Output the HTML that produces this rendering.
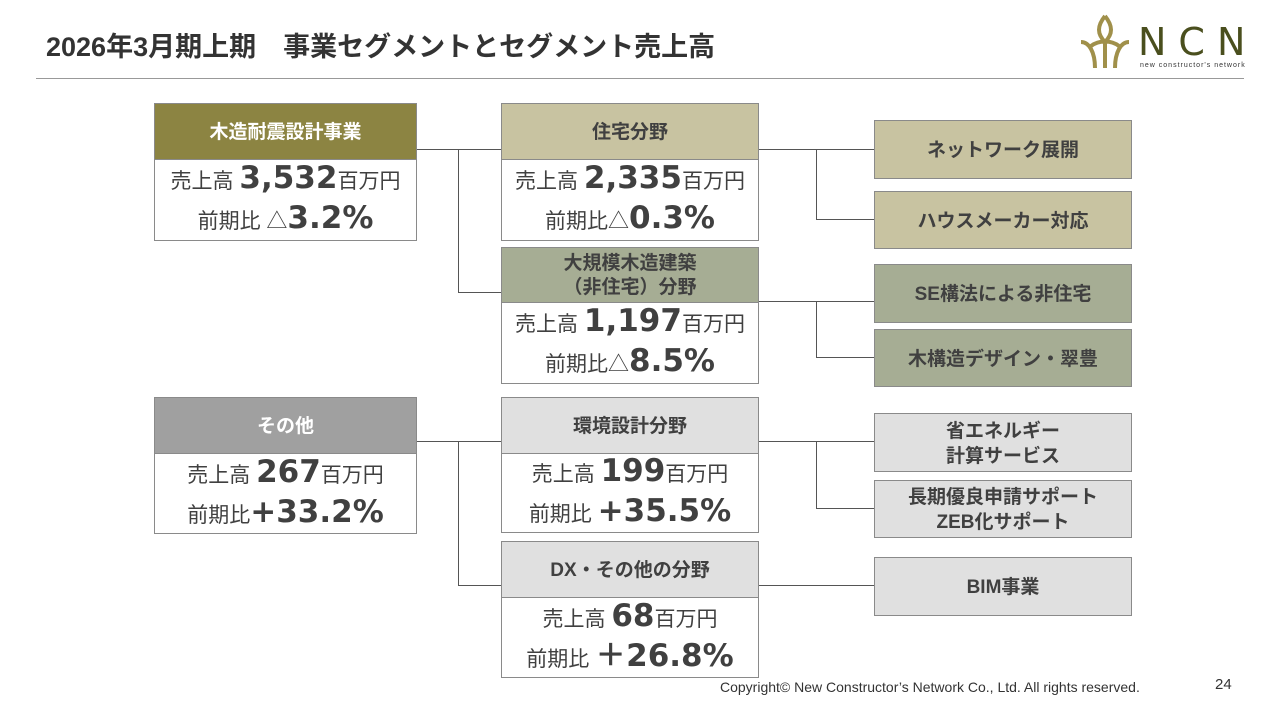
<!DOCTYPE html>
<html><head><meta charset="utf-8"><style>
*{margin:0;padding:0;box-sizing:border-box}
body{width:1280px;height:720px;background:#fff;position:relative;overflow:hidden;font-family:"Liberation Sans","Noto Sans CJK JP",sans-serif;color:#404040}
.a{position:absolute}
.h{position:absolute;display:flex;align-items:center;justify-content:center;text-align:center;font-weight:bold;font-size:19px;border:1px solid #8a8a8a;line-height:1.25;padding-top:2px}
.b{position:absolute;border:1px solid #8a8a8a;border-top:none;background:#fff;display:flex;flex-direction:column;justify-content:center;align-items:center;font-size:21px;line-height:37px}
.b b{font-size:31px;font-family:"DejaVu Sans","Noto Sans CJK JP",sans-serif}
.r{position:absolute;left:874px;width:258px;display:flex;align-items:center;justify-content:center;text-align:center;font-weight:bold;font-size:19px;border:1px solid #8a8a8a;line-height:1.3;color:#404040;padding-top:4px}
.ln{position:absolute;background:#555}
</style></head><body>
<div class="a" style="left:46px;top:25px;font-size:27px;font-weight:bold;color:#333;white-space:nowrap">2026年3月期上期　事業セグメントとセグメント売上高</div>
<div class="a" style="left:36px;top:78px;width:1208px;height:1px;background:#999"></div>
<div class="a" style="left:1074px;top:12px;width:175px;height:60px">
<svg width="62" height="60" viewBox="0 0 60 60" style="position:absolute;left:0;top:0"><path d="M30 4 C22 14 22 22 30 30 C38 22 38 14 30 4 M6 30 C14 30 20 40 20 56 M54 30 C46 30 40 40 40 56 M16 34 C24 28 36 28 44 34 M30 30 L30 56" stroke="#a0904a" stroke-width="4" fill="none"/></svg>
<div class="a" style="left:64px;top:8px;font-size:38px;color:#4a4f1e;letter-spacing:12px;font-family:'DejaVu Sans',sans-serif">NCN</div>
<div class="a" style="left:66px;top:50px;font-size:7px;color:#333;letter-spacing:1px;white-space:nowrap">new constructor's network</div>
</div>

<!-- connectors -->
<div class="ln" style="left:416px;top:149px;width:85px;height:1px"></div>
<div class="ln" style="left:458px;top:149px;width:1px;height:143px"></div>
<div class="ln" style="left:458px;top:292px;width:43px;height:1px"></div>
<div class="ln" style="left:758px;top:149px;width:116px;height:1px"></div>
<div class="ln" style="left:816px;top:149px;width:1px;height:70px"></div>
<div class="ln" style="left:816px;top:219px;width:58px;height:1px"></div>
<div class="ln" style="left:758px;top:301px;width:116px;height:1px"></div>
<div class="ln" style="left:816px;top:301px;width:1px;height:57px"></div>
<div class="ln" style="left:816px;top:357px;width:58px;height:1px"></div>
<div class="ln" style="left:416px;top:441px;width:85px;height:1px"></div>
<div class="ln" style="left:458px;top:441px;width:1px;height:144px"></div>
<div class="ln" style="left:458px;top:585px;width:43px;height:1px"></div>
<div class="ln" style="left:758px;top:441px;width:116px;height:1px"></div>
<div class="ln" style="left:816px;top:441px;width:1px;height:67px"></div>
<div class="ln" style="left:816px;top:508px;width:58px;height:1px"></div>
<div class="ln" style="left:758px;top:585px;width:116px;height:1px"></div>

<!-- left -->
<div class="h" style="left:154px;top:103px;width:263px;height:57px;background:#8c8442;color:#fff">木造耐震設計事業</div>
<div class="b" style="left:154px;top:160px;width:263px;height:81px"><div>売上高 <b>3,532</b>百万円</div><div>前期比 △<b>3.2%</b></div></div>
<div class="h" style="left:154px;top:397px;width:263px;height:57px;background:#a0a0a0;color:#fff">その他</div>
<div class="b" style="left:154px;top:454px;width:263px;height:80px"><div>売上高 <b>267</b>百万円</div><div>前期比<b>+33.2%</b></div></div>

<!-- middle -->
<div class="h" style="left:501px;top:103px;width:258px;height:57px;background:#c8c3a1">住宅分野</div>
<div class="b" style="left:501px;top:160px;width:258px;height:81px"><div>売上高 <b>2,335</b>百万円</div><div>前期比△<b>0.3%</b></div></div>
<div class="h" style="left:501px;top:247px;width:258px;height:56px;background:#a6ad94">大規模木造建築<br>（非住宅）分野</div>
<div class="b" style="left:501px;top:303px;width:258px;height:81px"><div>売上高 <b>1,197</b>百万円</div><div>前期比△<b>8.5%</b></div></div>
<div class="h" style="left:501px;top:397px;width:258px;height:57px;background:#e0e0e0">環境設計分野</div>
<div class="b" style="left:501px;top:454px;width:258px;height:79px"><div>売上高 <b>199</b>百万円</div><div>前期比 <b>+35.5%</b></div></div>
<div class="h" style="left:501px;top:541px;width:258px;height:57px;background:#e0e0e0">DX・その他の分野</div>
<div class="b" style="left:501px;top:598px;width:258px;height:80px"><div>売上高 <b>68</b>百万円</div><div>前期比 <b>＋26.8%</b></div></div>

<!-- right -->
<div class="r" style="top:120px;height:59px;background:#c8c3a1">ネットワーク展開</div>
<div class="r" style="top:191px;height:58px;background:#c8c3a1">ハウスメーカー対応</div>
<div class="r" style="top:264px;height:59px;background:#a6ad94">SE構法による非住宅</div>
<div class="r" style="top:329px;height:58px;background:#a6ad94">木構造デザイン・翠豊</div>
<div class="r" style="top:413px;height:59px;background:#e0e0e0">省エネルギー<br>計算サービス</div>
<div class="r" style="top:480px;height:58px;background:#e0e0e0">長期優良申請サポート<br>ZEB化サポート</div>
<div class="r" style="top:557px;height:59px;background:#e0e0e0">BIM事業</div>

<div class="a" style="left:720px;top:679px;font-size:14px;color:#333;white-space:nowrap">Copyright© New Constructor’s Network Co., Ltd. All rights reserved.</div>
<div class="a" style="left:1215px;top:676px;font-size:15px;color:#333">24</div>
</body></html>
